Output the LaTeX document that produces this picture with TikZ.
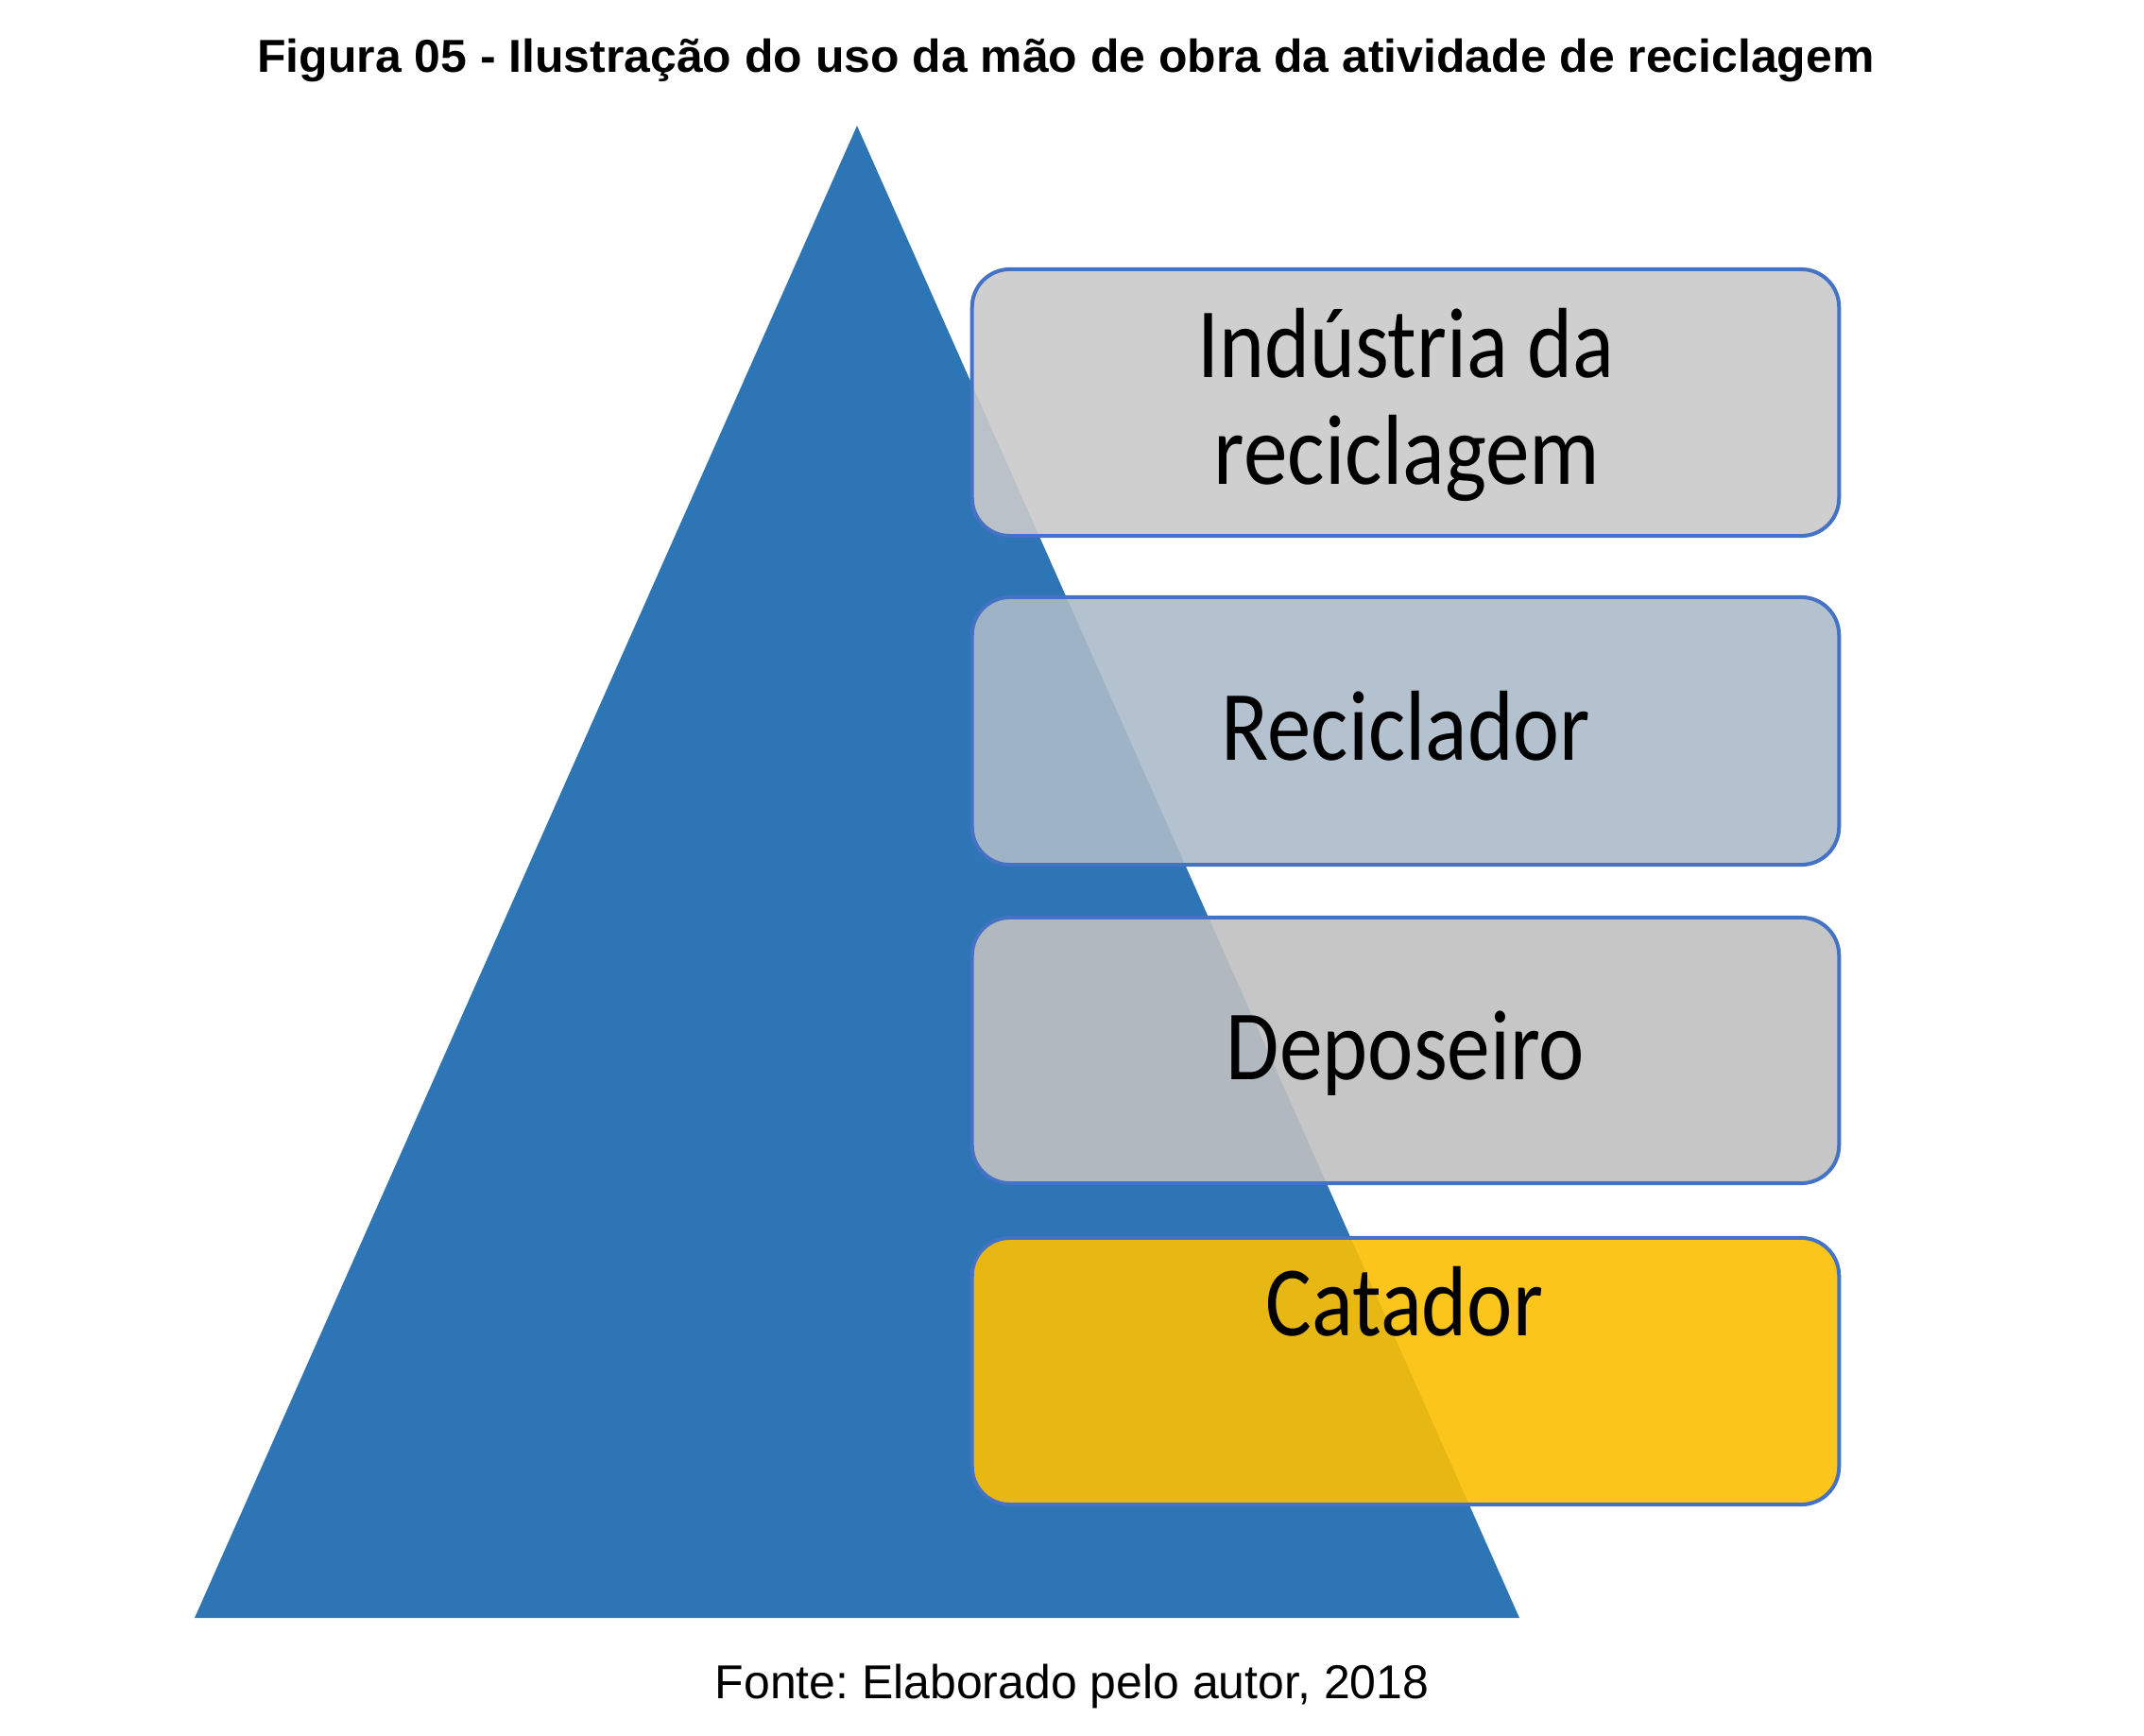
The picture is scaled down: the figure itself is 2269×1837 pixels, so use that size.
\documentclass[tikz,border=0pt]{standalone}
\usepackage{fontspec}
\setmainfont{Liberation Sans}
\newfontfamily\carl{Carlito}
\newcommand{\fitw}[2]{\resizebox{#1}{\height}{#2}}
\definecolor{triblue}{RGB}{46,117,182}
\definecolor{boxline}{RGB}{68,114,196}
\definecolor{fillA}{RGB}{202,202,202}
\definecolor{fillB}{RGB}{172,186,201}
\definecolor{fillC}{RGB}{192,192,192}
\definecolor{fillD}{RGB}{252,191,3}
\frenchspacing
\begin{document}
\begin{tikzpicture}[x=0.01cm,y=-0.01cm,
  levelbox/.style={rectangle, draw=boxline, line width=0.04cm, rounded corners=0.4cm,
    minimum width=9.17cm, inner sep=0pt, fill opacity=0.9},
  lbl/.style={anchor=base, inner sep=0pt, font=\carl\fontsize{30}{36}\selectfont},
  captext/.style={anchor=base, inner sep=0pt}]
\useasboundingbox (0,0) rectangle (2269,1837);
% title
\node[captext, font=\bfseries\fontsize{13.9}{16}\selectfont] (title) at (1128,77)
  {\fitw{17.10cm}{Figura 05 - Ilustração do uso da mão de obra da atividade de reciclagem}};
% pyramid
\coordinate (apex) at (907,133);
\coordinate (bl) at (206,1712);
\coordinate (br) at (1608,1712);
\fill[triblue] (apex) -- (br) -- (bl) -- cycle;
% level boxes
\node[levelbox, fill=fillA, minimum height=2.82cm] (b1) at (1487.5,426) {};
\node[levelbox, fill=fillB, minimum height=2.83cm] (b2) at (1487.5,773.5) {};
\node[levelbox, fill=fillC, minimum height=2.81cm] (b3) at (1487.5,1111.5) {};
\node[levelbox, fill=fillD, minimum height=2.82cm] (b4) at (1487.5,1451) {};
% labels
\node[lbl] (t1a) at (1488,400) {\fitw{4.41cm}{Indústria da}};
\node[lbl] (t1b) at (1489,513) {\fitw{4.08cm}{reciclagem}};
\node[lbl] (t2) at (1488,805) {\fitw{3.90cm}{Reciclador}};
\node[lbl] (t3) at (1487.5,1142) {\fitw{3.79cm}{Deposeiro}};
\node[lbl] (t4) at (1486.5,1413) {\fitw{2.93cm}{Catador}};
% source
\node[captext, font=\fontsize{14.3}{17}\selectfont] (src) at (1134.5,1797)
  {\fitw{7.55cm}{Fonte: Elaborado pelo autor, 2018}};
\end{tikzpicture}
\end{document}
